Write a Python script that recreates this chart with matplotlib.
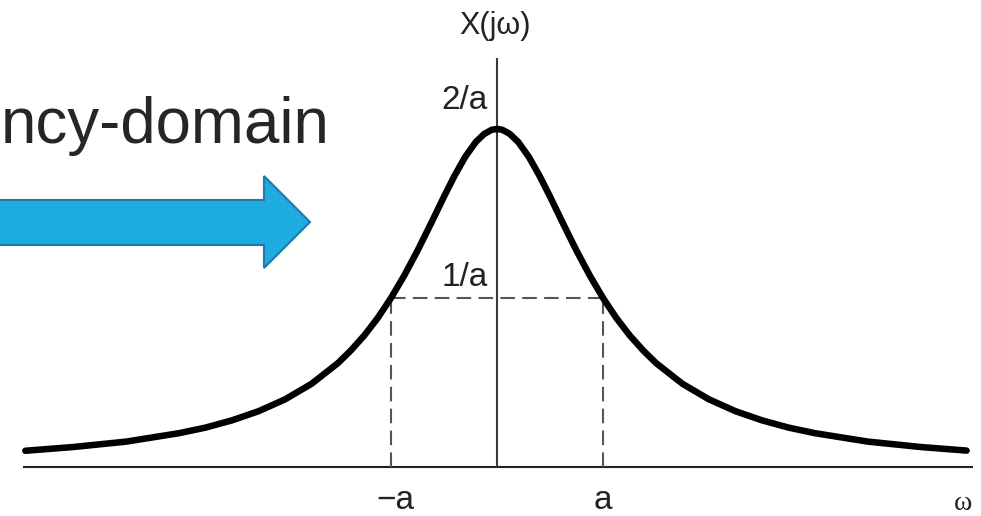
import matplotlib
matplotlib.use("Agg")
import matplotlib.pyplot as plt
from matplotlib.patches import Polygon

# curve: omega in units of a, X in units of 1/a
omega = [-4.45, -4.0, -3.5, -3.0, -2.75, -2.5, -2.25, -2.0, -1.75, -1.5,
         -1.375, -1.25, -1.125, -1.0, -0.875, -0.75, -0.625, -0.5, -0.4,
         -0.3, -0.2, -0.12, -0.05, 0.0,
         0.05, 0.12, 0.2, 0.3, 0.4, 0.5, 0.625, 0.75, 0.875, 1.0,
         1.125, 1.25, 1.375, 1.5, 1.75, 2.0, 2.25, 2.5, 2.75, 3.0, 3.5,
         4.0, 4.43]
X = [0.096, 0.118, 0.150, 0.200, 0.233, 0.276, 0.330, 0.400, 0.492, 0.615,
     0.692, 0.780, 0.882, 1.000, 1.133, 1.280, 1.438, 1.600, 1.724,
     1.835, 1.923, 1.971, 1.995, 2.000,
     1.995, 1.971, 1.923, 1.835, 1.724, 1.600, 1.438, 1.280, 1.133, 1.000,
     0.882, 0.780, 0.692, 0.615, 0.492, 0.400, 0.330, 0.276, 0.233, 0.200,
     0.150, 0.118, 0.097]

half_w = 1.0      # omega = a
half_h = 1.0      # X = 1/a
y_labels = ["2/a", "1/a"]
x_labels = ["\u2212a", "a"]

font = "Liberation Sans"
ink = "#222222"

fig = plt.figure(figsize=(9.81, 5.16), dpi=100)
ax = fig.add_axes([0, 0, 1, 1])
ax.set_xlim(-4.689, 4.566)
ax.set_ylim(-0.29, 2.763)
ax.axis("off")

# axes lines
ax.plot([-4.47, 4.49], [0, 0], color="#222222", lw=1.5, solid_capstyle="butt")
ax.plot([0, 0], [0, 2.42], color="#3a3a3a", lw=1.5, solid_capstyle="butt")

# dashed guides at half height
ax.plot([-half_w, half_w], [half_h, half_h], color="#555555", lw=1.5,
        dashes=(7, 3.5))
for w in (-half_w, half_w):
    ax.plot([w, w], [0, half_h], color="#555555", lw=1.5, dashes=(7, 3.5))

# the curve
ax.plot(omega, X, color="black", lw=4.7, solid_joinstyle="round",
        solid_capstyle="round")

# labels
ax.text(-0.09, 2.17, y_labels[0], ha="right", va="center", fontsize=24,
        family=font, color=ink)
ax.text(-0.085, 1.124, y_labels[1], ha="right", va="center", fontsize=24,
        family=font, color=ink)
ax.text(-half_w + 0.04, -0.2, x_labels[0], ha="center", va="center",
        fontsize=24, family=font, color=ink)
ax.text(half_w, -0.2, x_labels[1], ha="center", va="center",
        fontsize=24, family=font, color=ink)
ax.text(-0.02, 2.61, "X(j\u03c9)", ha="center", va="center", fontsize=22,
        family=font, color=ink)
ax.text(4.4, -0.215, "\u03c9", ha="center", va="center", fontsize=20,
        family="Liberation Serif", color=ink)

# overlay in pixel units for the slide decoration
ov = fig.add_axes([0, 0, 1, 1])
ov.set_xlim(0, 981)
ov.set_ylim(516, 0)
ov.axis("off")
ov.patch.set_alpha(0)
arrow = Polygon([(-20, 200), (264, 200), (264, 176), (310, 222),
                 (264, 268), (264, 245), (-20, 245)],
                closed=True, facecolor="#1eabe1", edgecolor="#1a7da6", lw=1.5)
ov.add_patch(arrow)
ov.text(1, 143, "ncy-domain", ha="left", va="baseline",
        fontsize=45.8, family=font, color="#262626")

fig.savefig("out.png", dpi=100)
